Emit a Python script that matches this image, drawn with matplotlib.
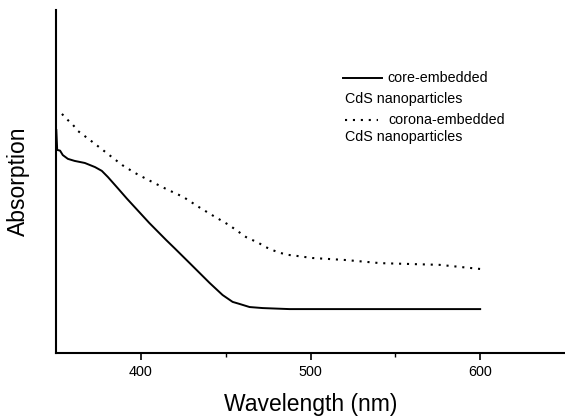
import matplotlib
matplotlib.use("Agg")
import matplotlib.pyplot as plt
from matplotlib.lines import Line2D

# ---- data ----
core_wl = [350.2, 350.7, 352.4, 354, 357, 361, 367, 373, 377, 380.6, 386.5,
           391.8, 405, 415, 420, 428.8, 434.7, 440.6, 448.2, 454.1, 458.2,
           464.1, 471.8, 487.6, 541, 600]
core_abs = [0.650, 0.592, 0.590, 0.577, 0.566, 0.560, 0.554, 0.542, 0.531,
            0.513, 0.480, 0.450, 0.379, 0.329, 0.305, 0.262, 0.233, 0.204,
            0.169, 0.149, 0.143, 0.134, 0.131, 0.128, 0.128, 0.128]

corona_wl = [353.5, 357, 360, 363, 370, 376, 383, 389, 396.5, 405, 415, 425,
             435, 442, 452, 462, 469.4, 473.5, 477.6, 482, 487, 492, 501, 521,
             541, 576, 600]
corona_abs = [0.697, 0.679, 0.665, 0.647, 0.621, 0.598, 0.571, 0.548, 0.525,
              0.503, 0.478, 0.455, 0.423, 0.402, 0.373, 0.338, 0.321, 0.309,
              0.300, 0.292, 0.286, 0.283, 0.277, 0.271, 0.262, 0.257, 0.245]

x_ticks = [400, 500, 600]
x_minor = [450, 550]
legend_lines = ["core-embedded", "CdS nanoparticles", "corona-embedded", "CdS nanoparticles"]

plt.rcParams['font.family'] = ['Liberation Sans', 'DejaVu Sans']

W, H = 565, 417
fig = plt.figure(figsize=(W / 100, H / 100), dpi=100)
x0, x1, y0, y1 = 56, 565, 353, 10
ax = fig.add_axes([x0 / W, (H - y0) / H, (x1 - x0) / W, (y0 - y1) / H])

dot_style = (0, (1, 2.8))
ax.plot(core_wl, core_abs, color='black', lw=1.4)
ax.plot(corona_wl, corona_abs, color='black', lw=1.5, linestyle=dot_style)

ax.set_xlim(350, 650)
ax.set_ylim(0, 1)
ax.spines['top'].set_visible(False)
ax.spines['right'].set_visible(False)
ax.spines['left'].set_linewidth(1.5)
ax.spines['bottom'].set_linewidth(1.5)
ax.set_yticks([])
ax.set_xticks(x_ticks)
ax.set_xticks(x_minor, minor=True)
ax.tick_params(axis='x', which='major', direction='out', length=5, width=1.2,
               labelsize=10.4, pad=4)
ax.tick_params(axis='x', which='minor', direction='out', length=3, width=1.0)

ax.set_xlabel("Wavelength (nm)", fontsize=16.5, va='center')
ax.xaxis.set_label_coords(0.5, (y0 - 405) / (y0 - y1))
ax.set_ylabel("Absorption", fontsize=16.5, va='center')
ax.yaxis.set_label_coords((18 - x0) / (x1 - x0), 0.5)

def axc(px, py):
    return (px - x0) / (x1 - x0), (y0 - py) / (y0 - y1)

# legend built by hand to mimic the reference layout
for (pa, py, ls, lw) in [((343, 382), 78, '-', 1.4), ((345, 378), 120, dot_style, 1.5)]:
    xa, ya = axc(pa[0], py)
    xb, _ = axc(pa[1], py)
    ax.add_line(Line2D([xa, xb], [ya, ya], transform=ax.transAxes, color='black',
                       lw=lw, linestyle=ls))

for (px, py), txt in zip([(387, 78), (345, 99), (388, 120), (345, 137)], legend_lines):
    tx, ty = axc(px, py)
    ax.text(tx, ty, txt, transform=ax.transAxes, fontsize=10.3, ha='left', va='center')

fig.savefig("out.png", dpi=100)
